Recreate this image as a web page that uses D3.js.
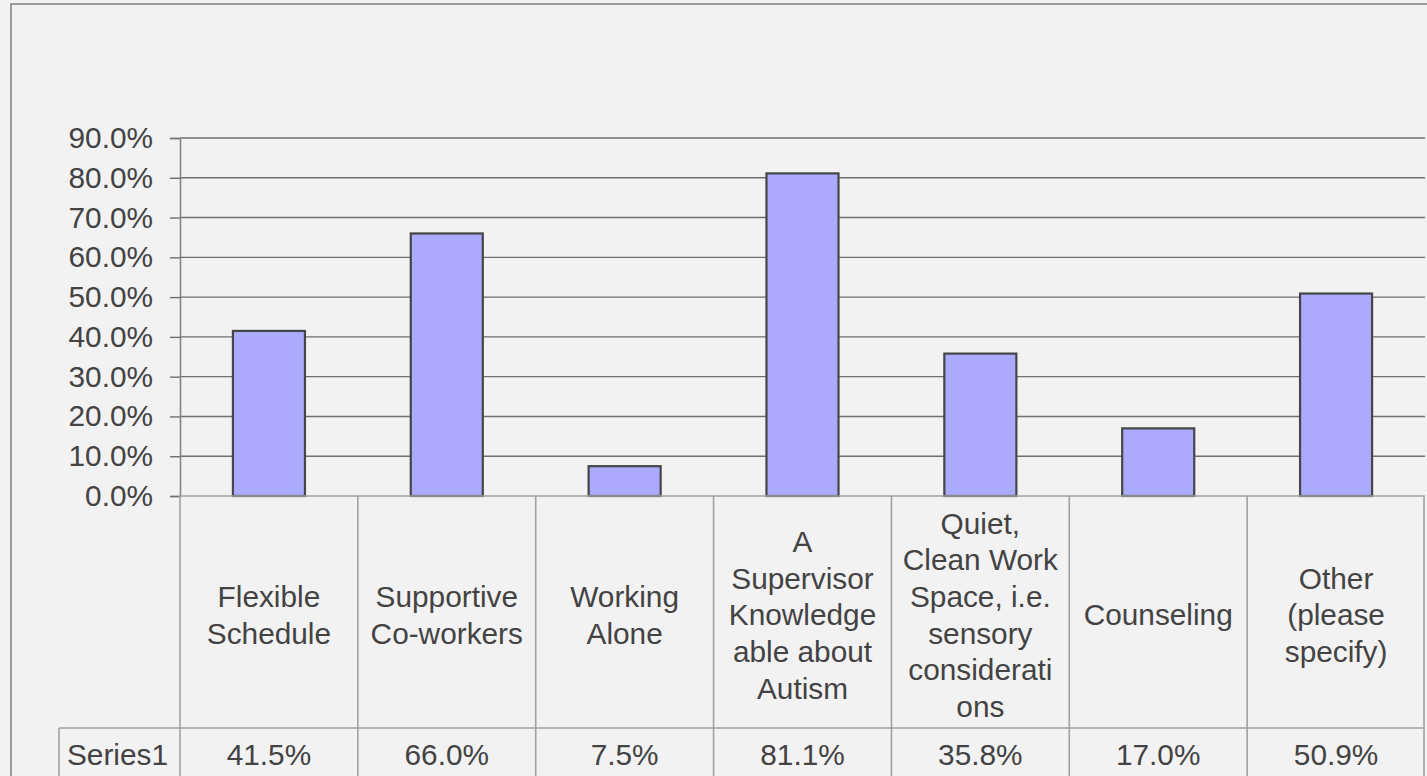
<!DOCTYPE html>
<html>
<head>
<meta charset="utf-8">
<script src="https://cdn.jsdelivr.net/npm/d3@7"></script>
<style>
  html, body { margin: 0; padding: 0; background: #f2f2f2; }
  svg { display: block; }
  text { font-family: "Liberation Sans", Arial, sans-serif; fill: #434343; }
</style>
</head>
<body>
<svg id="chart" width="1427" height="776"></svg>
<script>
// ---- data ----
const categories = [
  "Flexible\nSchedule",
  "Supportive\nCo-workers",
  "Working\nAlone",
  "A\nSupervisor\nKnowledge\nable about\nAutism",
  "Quiet,\nClean Work\nSpace, i.e.\nsensory\nconsiderati\nons",
  "Counseling",
  "Other\n(please\nspecify)"
];
const seriesName = "Series1";
const values = [0.415, 0.660, 0.075, 0.811, 0.358, 0.170, 0.509];
const yTicks = [0, 0.1, 0.2, 0.3, 0.4, 0.5, 0.6, 0.7, 0.8, 0.9];

// ---- layout ----
const W = 1427, H = 776;
const plotLeft = 180, plotRight = 1425, plotTop = 138, plotBottom = 496;
const tableHeaderBottom = 728;
const seriesCellLeft = 59;
const fontSize = 29.8;
const lineH = 36.7;

const svg = d3.select("#chart");

// outer frame
svg.append("rect").attr("x", 11).attr("y", 4).attr("width", W + 20).attr("height", H + 20)
  .attr("fill", "#f2f2f2").attr("stroke", "#858585").attr("stroke-width", 1.6);

const x = d3.scaleBand().domain(categories).range([plotLeft, plotRight]).padding(0);
const y = d3.scaleLinear().domain([0, 0.9]).range([plotBottom, plotTop]);
const fmt = d3.format(".1%");

// gridlines
svg.append("g").selectAll("line").data(yTicks.filter(d => d > 0)).join("line")
  .attr("x1", plotLeft).attr("x2", plotRight)
  .attr("y1", d => y(d)).attr("y2", d => y(d))
  .attr("stroke", "#6f6f6f").attr("stroke-width", 1.4);

// y axis
const yAxis = d3.axisLeft(y).tickValues(yTicks).tickFormat(fmt).tickSize(10).tickPadding(17);
const gy = svg.append("g").attr("transform", `translate(${plotLeft},0)`).call(yAxis);
gy.select(".domain").attr("stroke", "#858585").attr("stroke-width", 1.6);
gy.selectAll(".tick line").attr("stroke", "#6f6f6f").attr("stroke-width", 1.4);
gy.selectAll(".tick text").attr("font-size", fontSize)
  .attr("font-family", "'Liberation Sans', Arial, sans-serif").attr("fill", "#434343");

// bars
const barW = x.bandwidth() * 0.405;
svg.append("g").selectAll("rect").data(values).join("rect")
  .attr("x", (d, i) => x(categories[i]) + (x.bandwidth() - barW) / 2)
  .attr("y", d => y(d))
  .attr("width", barW)
  .attr("height", d => y(0) - y(d))
  .attr("fill", "#aaaaff").attr("stroke", "#464646").attr("stroke-width", 2.2);

// data table
const tbl = svg.append("g").attr("stroke", "#a0a0a0").attr("stroke-width", 1.6);
tbl.append("line").attr("x1", plotLeft).attr("x2", plotRight).attr("y1", plotBottom).attr("y2", plotBottom);
tbl.append("line").attr("x1", seriesCellLeft).attr("x2", plotRight).attr("y1", tableHeaderBottom).attr("y2", tableHeaderBottom);
tbl.append("line").attr("x1", seriesCellLeft).attr("x2", seriesCellLeft).attr("y1", tableHeaderBottom).attr("y2", H + 10);
const bounds = categories.map(c => x(c)).concat([plotRight - 1]);
tbl.selectAll("line.v").data(bounds).join("line").attr("class", "v")
  .attr("x1", d => d).attr("x2", d => d).attr("y1", plotBottom).attr("y2", H + 10);

// category labels
const headMid = 615;
categories.forEach((c, i) => {
  const lines = c.split("\n");
  const cx = x(c) + x.bandwidth() / 2;
  const t = svg.append("text").attr("text-anchor", "middle").attr("font-size", fontSize);
  lines.forEach((ln, j) => {
    t.append("tspan").attr("x", cx)
      .attr("y", headMid + (j - (lines.length - 1) / 2) * lineH)
      .attr("dy", "0.35em").text(ln);
  });
});

// series row
const rowMid = 755;
svg.append("text").attr("x", 67).attr("y", rowMid).attr("dy", "0.35em")
  .attr("font-size", fontSize).text(seriesName);
svg.append("g").selectAll("text").data(values).join("text")
  .attr("x", (d, i) => x(categories[i]) + x.bandwidth() / 2)
  .attr("y", rowMid).attr("dy", "0.35em")
  .attr("text-anchor", "middle").attr("font-size", fontSize)
  .text(d => fmt(d));
</script>
</body>
</html>
